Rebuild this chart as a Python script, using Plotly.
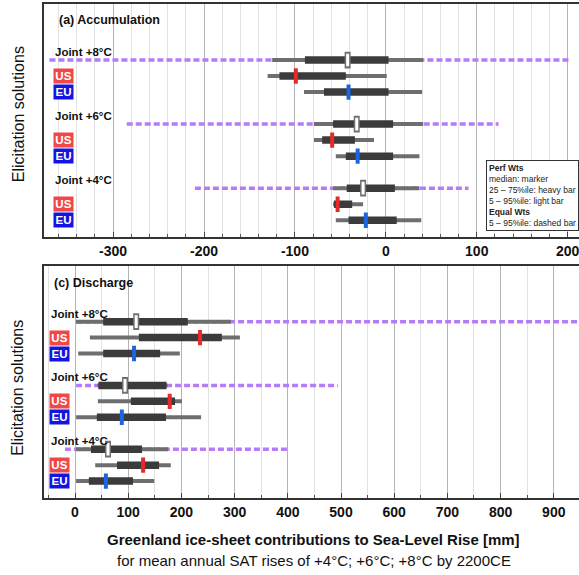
import plotly.graph_objects as go

# ---------------- data ----------------
row_labels = ["Joint +8°C", "US", "EU", "Joint +6°C", "US", "EU", "Joint +4°C", "US", "EU"]
row_kind = ["Joint", "US", "EU", "Joint", "US", "EU", "Joint", "US", "EU"]

# (a) Accumulation [mm]
acc_p5 = [-125, -130, -90, -79, -79, -55, -58, -58, -55]
acc_q25 = [-89, -117, -68, -58, -70, -44, -43, -57, -41]
acc_median = [-42, -99, -41, -32, -59, -31, -25, -53, -22]
acc_q75 = [3, -44, 3, 8, -34, 8, 10, -37, 12]
acc_p95 = [41, 1, 40, 41, -13, 37, 37, -25, 39]
acc_eq5 = [-370, -285, -210]      # equal weights, Joint rows (+8, +6, +4)
acc_eq95 = [203, 124, 91]

# (c) Discharge [mm]
dis_p5 = [2, 28, 6, 42, 43, 2, 2, 38, 2]
dis_q25 = [53, 120, 53, 44, 105, 41, 30, 79, 26]
dis_median = [115, 235, 111, 94, 178, 88, 62, 128, 58]
dis_q75 = [212, 276, 160, 172, 188, 171, 126, 158, 109]
dis_p95 = [293, 310, 197, 174, 201, 237, 175, 180, 149]
dis_eq5 = [2, 2, -19]
dis_eq95 = [960, 494, 400]

acc_ticks = [-300, -200, -100, 0, 100, 200]
dis_ticks = [0, 100, 200, 300, 400, 500, 600, 700, 800, 900]

# ---------------- styling ----------------
FONT = "Arial, 'Liberation Sans', sans-serif"
PURPLE = "#b67cf7"
LIGHT = "#6e6e6e"
HEAVY = "#3b3b3b"
MED_COL = {"US": "#e52a2a", "EU": "#1a66e0"}
BOX_COL = {"US": "#f04848", "EU": "#1414e0"}

# slot position of each row: 4 slots per group (3 rows + gap)
row_y = [4 * (i // 3) + (i % 3) for i in range(len(row_labels))]
joint_idx = [i for i, k in enumerate(row_kind) if k == "Joint"]

fig = go.Figure()


def segs(lo, hi, ys):
    xs, yy = [], []
    for a, b, y in zip(lo, hi, ys):
        xs += [a, b, None]
        yy += [y, y, None]
    return xs, yy


def add_panel(xa, ya, p5, q25, med, q75, p95, eq5, eq95):
    jy = [row_y[i] for i in joint_idx]
    x, y = segs(eq5, eq95, jy)
    fig.add_trace(go.Scatter(x=x, y=y, mode="lines", xaxis=xa, yaxis=ya,
                             line=dict(color=PURPLE, width=3.5, dash="6px,3px"),
                             hoverinfo="skip", showlegend=False))
    x, y = segs(p5, p95, row_y)
    fig.add_trace(go.Scatter(x=x, y=y, mode="lines", xaxis=xa, yaxis=ya,
                             line=dict(color=LIGHT, width=4),
                             hoverinfo="skip", showlegend=False))
    x, y = segs(q25, q75, row_y)
    fig.add_trace(go.Scatter(x=x, y=y, mode="lines", xaxis=xa, yaxis=ya,
                             line=dict(color=HEAVY, width=7.5),
                             hoverinfo="skip", showlegend=False))
    # medians
    for kind in ["Joint", "US", "EU"]:
        idx = [i for i, k in enumerate(row_kind) if k == kind]
        mx = [med[i] for i in idx]
        my = [row_y[i] for i in idx]
        if kind == "Joint":
            fig.add_trace(go.Scatter(x=mx, y=my, mode="markers", xaxis=xa, yaxis=ya,
                                     marker=dict(symbol="line-ns", size=12,
                                                 line=dict(color="#707070", width=6)),
                                     hoverinfo="skip", showlegend=False))
            fig.add_trace(go.Scatter(x=mx, y=my, mode="markers", xaxis=xa, yaxis=ya,
                                     marker=dict(symbol="line-ns", size=9,
                                                 line=dict(color="white", width=3)),
                                     hoverinfo="skip", showlegend=False))
        else:
            fig.add_trace(go.Scatter(x=mx, y=my, mode="markers", xaxis=xa, yaxis=ya,
                                     marker=dict(symbol="line-ns", size=11,
                                                 line=dict(color=MED_COL[kind], width=4)),
                                     hoverinfo="skip", showlegend=False))


add_panel("x", "y", acc_p5, acc_q25, acc_median, acc_q75, acc_p95, acc_eq5, acc_eq95)
add_panel("x2", "y2", dis_p5, dis_q25, dis_median, dis_q75, dis_p95, dis_eq5, dis_eq95)

annotations = []


def add_row_labels(xref, yref, xpos):
    for i, (lab, kind) in enumerate(zip(row_labels, row_kind)):
        if kind == "Joint":
            annotations.append(dict(xref=xref, yref=yref, x=xpos, y=row_y[i] - 0.5,
                                    xanchor="left", yanchor="middle", showarrow=False,
                                    text="<b>%s</b>" % lab,
                                    font=dict(family=FONT, size=11.5, color="#111")))
        else:
            annotations.append(dict(xref=xref, yref=yref, x=xpos, y=row_y[i],
                                    xanchor="left", yanchor="middle", showarrow=False,
                                    text="<b>%s</b>" % lab, bgcolor=BOX_COL[kind],
                                    borderpad=1, width=17,
                                    font=dict(family=FONT, size=11.5, color="white")))


add_row_labels("x domain", "y", 0.016)
add_row_labels("x2 domain", "y2", 0.009)

annotations += [
    dict(xref="x domain", yref="y domain", x=0.024, y=0.932, xanchor="left", yanchor="middle",
         showarrow=False, text="<b>(a) Accumulation</b>", font=dict(family=FONT, size=12.5, color="#111")),
    dict(xref="x2 domain", yref="y2 domain", x=0.015, y=0.927, xanchor="left", yanchor="middle",
         showarrow=False, text="<b>(c) Discharge</b>", font=dict(family=FONT, size=12.5, color="#111")),
    dict(xref="paper", yref="paper", x=-0.0486, y=0.777, textangle=-90, showarrow=False,
         xanchor="center", yanchor="middle", text="Elicitation solutions",
         font=dict(family=FONT, size=16, color="#111")),
    dict(xref="paper", yref="paper", x=-0.0486, y=0.223, textangle=-90, showarrow=False,
         xanchor="center", yanchor="middle", text="Elicitation solutions",
         font=dict(family=FONT, size=16, color="#111")),
    dict(xref="paper", yref="paper", x=(313 - 44) / 535, y=-0.084, showarrow=False,
         xanchor="center", yanchor="middle",
         text="<b>Greenland ice-sheet contributions to Sea-Level Rise [mm]</b>",
         font=dict(family=FONT, size=15, color="#111")),
    dict(xref="paper", yref="paper", x=(314 - 44) / 535, y=-0.127, showarrow=False,
         xanchor="center", yanchor="middle",
         text="for mean annual SAT rises of +4°C; +6°C; +8°C by 2200CE",
         font=dict(family=FONT, size=15, color="#111")),
    dict(xref="paper", yref="paper", x=(486 - 44) / 535, y=(498 - 160) / 494,
         xanchor="left", yanchor="top", showarrow=False, align="left",
         bgcolor="white", bordercolor="#333", borderwidth=1, borderpad=2,
         text=("<b>Perf Wts</b><br>median: marker<br>25 – 75%ile: heavy bar<br>"
               "5 – 95%ile: light bar<br><b>Equal Wts</b><br>5 – 95%ile: dashed bar"),
         font=dict(family=FONT, size=8.5, color="#222")),
]

xcommon = dict(showline=True, mirror=True, linecolor="#333", linewidth=2,
               ticks="inside", ticklen=5, tickcolor="#444", zeroline=False,
               showgrid=True, gridcolor="#b4b4b4", gridwidth=1,
               ticklabeloverflow="allow",
               tickfont=dict(family=FONT, size=14, color="#111"))
ycommon = dict(showline=True, mirror=False, linecolor="#333", linewidth=2,
               showgrid=False, zeroline=False, showticklabels=False, ticks="",
               range=[11.06, -3.5])

fig.update_layout(
    width=579, height=575,
    margin=dict(l=44, r=0, t=4, b=77),
    paper_bgcolor="white", plot_bgcolor="white",
    showlegend=False,
    xaxis=dict(domain=[0, 1], anchor="y", range=[-376, 212.5], tickvals=acc_ticks,
               ticktext=["<b>%d</b>" % v for v in acc_ticks],
               minor=dict(dtick=20, tick0=0, showgrid=True, gridcolor="#e2e2e2",
                          ticks="inside", ticklen=3, tickcolor="#555"),
               **xcommon),
    yaxis=dict(domain=[0.528, 1], anchor="x", **ycommon),
    xaxis2=dict(domain=[0, 1], anchor="y2", range=[-58.3, 947.4], tickvals=dis_ticks,
                ticktext=["<b>%d</b>" % v for v in dis_ticks],
                minor=dict(dtick=50, tick0=0, showgrid=True, gridcolor="#e2e2e2",
                           ticks="inside", ticklen=3, tickcolor="#555"),
                **xcommon),
    yaxis2=dict(domain=[0, 0.47], anchor="x2", **ycommon),
    annotations=annotations,
)

fig.write_html("out.html", config={"displayModeBar": False},
               post_script="document.body.style.margin='0px';document.body.style.overflow='hidden';")
